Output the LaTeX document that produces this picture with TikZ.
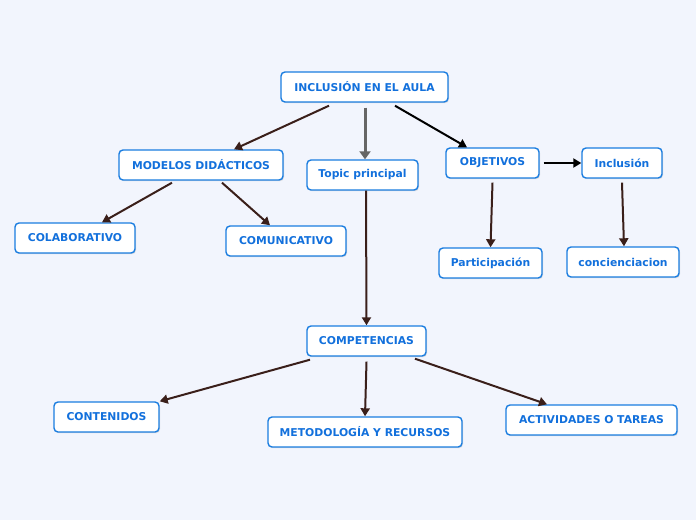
\documentclass[tikz,border=0pt]{standalone}
\usepackage{fontspec}
\setmainfont{DejaVu Sans}
\usetikzlibrary{arrows.meta,shadows}
\definecolor{bg}{HTML}{F2F5FD}
\definecolor{bblue}{HTML}{1A7DE0}
\definecolor{tblue}{HTML}{1270DC}
\definecolor{brown}{HTML}{3A1F1A}
\tikzset{
  box/.style={draw=bblue, line width=1.4pt, fill=white, rounded corners=4pt,
    minimum height=30pt, inner sep=0pt, text=tblue,
    font=\fontsize{10.8}{12}\selectfont\bfseries,
    drop shadow={shadow xshift=1pt, shadow yshift=-1.2pt, opacity=0.25, fill=gray}},
  conn/.style={draw=brown, line width=2pt, -{Triangle[length=8pt,width=9pt]}},
  connk/.style={draw=black, line width=2pt, -{Triangle[length=8pt,width=9pt]}},
  conng/.style={draw=gray!80!black, line width=3pt, -{Triangle[length=8pt,width=11pt]}}
}
\begin{document}
\begin{tikzpicture}[x=1pt,y=-1pt]
\fill[bg] (0,0) rectangle (696,520);
\useasboundingbox (0,0) rectangle (696,520);
\node[box, minimum width=167pt] (aula) at (364.5,87) {INCLUSIÓN EN EL AULA};
\node[box, minimum width=164pt] (modelos) at (201,165) {MODELOS DIDÁCTICOS};
\node[box, minimum width=111pt] (topic) at (362.5,175) {Topic principal};
\node[box, minimum width=93pt] (objetivos) at (492.5,163) {OBJETIVOS};
\node[box, minimum width=80pt] (inclusion) at (622,163) {Inclusión};
\node[box, minimum width=120pt] (colab) at (75,238) {COLABORATIVO};
\node[box, minimum width=120pt] (comun) at (286,241) {COMUNICATIVO};
\node[box, minimum width=103pt] (partic) at (490.5,263) {Participación};
\node[box, minimum width=112pt] (concien) at (623,262) {concienciacion};
\node[box, minimum width=119pt] (compet) at (366.5,341) {COMPETENCIAS};
\node[box, minimum width=105pt] (conten) at (106.5,417) {CONTENIDOS};
\node[box, minimum width=194pt] (metod) at (365,432) {METODOLOGÍA Y RECURSOS};
\node[box, minimum width=171pt] (activ) at (591.5,420) {ACTIVIDADES O TAREAS};

\draw[conn] ([xshift=-35.5pt,yshift=-3pt]aula.south) -- ([xshift=33pt]modelos.north);
\draw[conng] ([xshift=0.5pt,yshift=-5pt]aula.south) -- ([xshift=2.5pt]topic.north);
\draw[connk] ([xshift=30.5pt,yshift=-3pt]aula.south) -- ([xshift=-25.5pt]objetivos.north);
\draw[connk] ([xshift=4pt]objetivos.east) -- (inclusion.west);
\draw[conn] ([xshift=-29pt,yshift=-2pt]modelos.south) -- ([xshift=27pt]colab.north);
\draw[conn] ([xshift=21pt,yshift=-2pt]modelos.south) -- ([xshift=-16pt]comun.north);
\draw[conn] ([xshift=3.5pt]topic.south) -- (compet.north);
\draw[conn] ([yshift=-4pt]objetivos.south) -- (partic.north);
\draw[conn] ([yshift=-4pt]inclusion.south) -- ([xshift=1pt]concien.north);
\draw[conn] ([xshift=-56.5pt,yshift=-3pt]compet.south) -- (conten.north east);
\draw[conn] ([yshift=-5pt]compet.south) -- (metod.north);
\draw[conn] ([xshift=48.5pt,yshift=-2pt]compet.south) -- ([xshift=-44.5pt]activ.north);
\end{tikzpicture}
\end{document}
